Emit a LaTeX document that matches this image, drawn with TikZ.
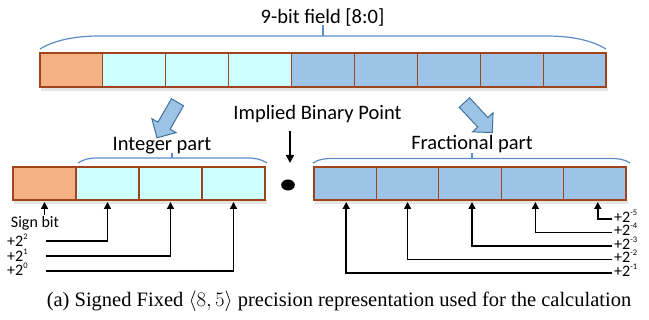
\documentclass[tikz,border=0pt]{standalone}
\usepackage{fontspec}
\setmainfont{Liberation Serif}
\newfontfamily\calibri{Carlito}
\usepackage{tikz}
\usetikzlibrary{arrows.meta, shapes.arrows, positioning}

\definecolor{signorange}{HTML}{F4B183}
\definecolor{intcyan}{HTML}{CCFFFF}
\definecolor{fracblue}{HTML}{9DC3E6}
\definecolor{cellbrown}{HTML}{A0451B}
\definecolor{bracecol}{HTML}{5B8CC4}
\definecolor{arrowedge}{HTML}{41719C}

\newcommand{\sups}[1]{\raisebox{7pt}{\fontsize{8.5}{9}\selectfont #1}}

\begin{document}
\begin{tikzpicture}[x=1pt, y=-1pt,
  cell/.style={draw=cellbrown, line width=1.1pt, inner sep=0pt, outer sep=0pt, minimum height=34},
  bigarrow/.style={single arrow, draw=arrowedge, fill=fracblue, line width=1pt, minimum height=41, inner sep=6.5pt, single arrow head extend=7pt, single arrow head indent=0pt},
  bitarrow/.style={-{Triangle[length=7pt, width=7pt]}, line width=1.5pt, shorten >=2pt},
  pointarrow/.style={-{Triangle[length=8pt, width=8pt]}, line width=1.6pt},
  fieldbrace/.style={draw=bracecol, line width=1.2pt},
  lbl/.style={font=\calibri\fontsize{20.5}{24}\selectfont, inner sep=0pt, anchor=base},
  bitlbl/.style={font=\calibri\fontsize{16}{18}\selectfont, inner sep=0pt, anchor=base west}]
\useasboundingbox (0,0) rectangle (649,320);

% Widths of the cells
\pgfmathsetmacro{\topW}{(606-40)/9}
\pgfmathsetmacro{\intW}{(265-13)/4}
\pgfmathsetmacro{\fracW}{(626-314)/5}

% Shadows under the bars
\fill[black!10] (41,87) rectangle (608,91);
\fill[black!10] (14,200) rectangle (267,204);
\fill[black!10] (315,200) rectangle (628,204);

% 9-bit field
\foreach \i/\col in {0/signorange,1/intcyan,2/intcyan,3/intcyan,4/fracblue,5/fracblue,6/fracblue,7/fracblue,8/fracblue}
  \node[cell, fill=\col, minimum width=\topW] (t\i) at ({40+\topW*(\i+0.5)}, 70) {};

% Sign and integer part
\node[cell, fill=signorange, minimum width=\intW, minimum height=33] (s) at ({13+\intW*0.5}, 183.5) {};
\foreach \i in {1,2,3}
  \node[cell, fill=intcyan, minimum width=\intW, minimum height=33] (i\i) at ({13+\intW*(\i+0.5)}, 183.5) {};

% Fractional part
\foreach \i in {1,...,5}
  \node[cell, fill=fracblue, minimum width=\fracW, minimum height=33] (f\i) at ({314+\fracW*(\i-0.5)}, 183.5) {};

% Braces
\draw[fieldbrace] (40,49) .. controls (55,40) and (75,36) .. (100,36) -- (546,36) .. controls (571,36) and (591,40) .. (606,49);
\draw[fieldbrace] (323,36) -- (323,25);
\draw[fieldbrace] (78,163) .. controls (84,159) and (90,158) .. (98,158) -- (247,158) .. controls (255,158) and (261,159) .. (267,163);
\draw[fieldbrace] (172,158) -- (172,153);
\draw[fieldbrace] (313,163) .. controls (319,159) and (325,158.5) .. (333,158.5) -- (610,158.5) .. controls (618,158.5) and (624,159) .. (630,163);
\draw[fieldbrace] (472,158.5) -- (472,153);

% Texts
\node[lbl] (title) at (322.5,24) {9-bit field [8:0]};
\node[lbl] (ibp) at (317.5,120) {Implied Binary Point};
\node[lbl] (intlbl) at (162,151) {Integer part};
\node[lbl] (fraclbl) at (472,150) {Fractional part};

% Block arrows
\node[bigarrow, rotate=-120] (toint) at (169,117) {};
\node[bigarrow, rotate=-47] (tofrac) at (476,115) {};

% Binary point
\coordinate (ibptop) at (290,131);
\coordinate (ibpend) at (290,163);
\draw[pointarrow] (ibptop) -- (ibpend);
\node[circle, fill=black, minimum size=11, inner sep=0pt, xscale=1.25] (dot) at (288,185) {};

% Sign bit
\node[bitlbl, anchor=base] (signlbl) at (35,228) {Sign bit};
\draw[bitarrow] ([yshift=2pt]signlbl.north -| s.south) -- (s.south);

% Integer weights
\node[bitlbl] (p2) at (7,247) {+2\sups{2}};
\node[bitlbl] (p1) at (7,262) {+2\sups{1}};
\node[bitlbl] (p0) at (7,276) {+2\sups{0}};
\coordinate (l2) at (46,241);
\coordinate (l1) at (46,256);
\coordinate (l0) at (46,271);
\draw[bitarrow] (l2) -| (i1.south);
\draw[bitarrow] (l1) -| (i2.south);
\draw[bitarrow] (l0) -| (i3.south);

% Fractional weights
\node[bitlbl] (m5) at (614,223) {+2\sups{-5}};
\node[bitlbl] (m4) at (614,236) {+2\sups{-4}};
\node[bitlbl] (m3) at (614,249.5) {+2\sups{-3}};
\node[bitlbl] (m2) at (614,263) {+2\sups{-2}};
\node[bitlbl] (m1) at (614,276.5) {+2\sups{-1}};
\coordinate (r5) at (612,219);
\coordinate (r4) at (612,232.5);
\coordinate (r3) at (612,246);
\coordinate (r2) at (612,259.5);
\coordinate (r1) at (612,273);
\draw[bitarrow] (r5) -| ([xshift=3pt]f5.south);
\draw[bitarrow] (r4) -| ([xshift=3pt]f4.south);
\draw[bitarrow] (r3) -| ([xshift=2pt]f3.south);
\draw[bitarrow] (r2) -| (f2.south);
\draw[bitarrow] (r1) -| ([xshift=1pt]f1.south);

% Caption
\node[anchor=base, font=\fontsize{20.5}{24}\selectfont, inner sep=0pt] (caption) at (339,307) {(a) Signed Fixed $\langle 8, 5\rangle$ precision representation used for the calculation};

\end{tikzpicture}
\end{document}
